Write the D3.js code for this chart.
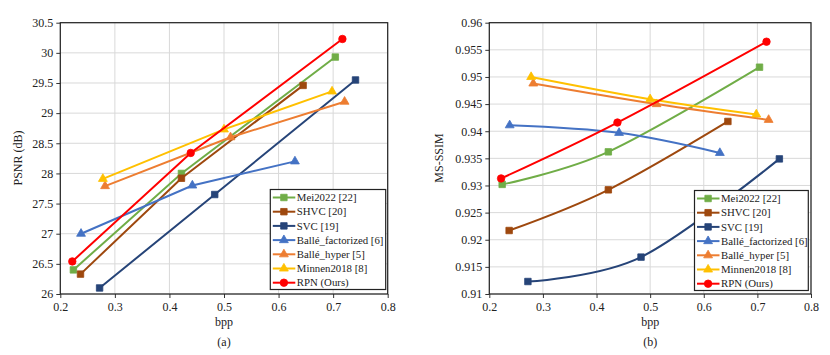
<!DOCTYPE html>
<html>
<head>
<meta charset="utf-8">
<script src="https://cdn.jsdelivr.net/npm/d3@7"></script>
<style>
  body { margin: 0; background: #fff; }
  svg text { font-family: "Liberation Serif", "Times New Roman", Times, serif; fill: #222; }
</style>
</head>
<body>
<svg id="chart" width="830" height="355"></svg>
<script>
// series names, colours and marker shapes
const seriesNames = ['Mei2022 [22]', 'SHVC [20]', 'SVC [19]', 'Ballé_factorized [6]', 'Ballé_hyper [5]', 'Minnen2018 [8]', 'RPN (Ours)'];
const seriesColors = ['#70ad47', '#9e480e', '#264478', '#4472c4', '#ed7d31', '#ffc000', '#ff0000'];
const seriesMarkers = ['square', 'square', 'square', 'triangle', 'triangle', 'triangle', 'circle'];

// bpp for each series (shared by both panels)
const bppMei = [0.224, 0.422, 0.704];
const bppShvc = [0.237, 0.422, 0.645];
const bppSvc = [0.272, 0.483, 0.741];
const bppFact = [0.238, 0.442, 0.630];
const bppHyper = [0.282, 0.512, 0.721];
const bppMinnen = [0.278, 0.500, 0.698];
const bppRpn = [0.222, 0.439, 0.717];

// (a) PSNR
const psnrMei = [26.40, 28.00, 29.93];
const psnrShvc = [26.33, 27.92, 29.46];
const psnrSvc = [26.10, 27.65, 29.55];
const psnrFact = [27.00, 27.80, 28.20];
const psnrHyper = [27.79, 28.60, 29.19];
const psnrMinnen = [27.91, 28.73, 29.36];
const psnrRpn = [26.54, 28.34, 30.23];

// (b) MS-SSIM
const msMei = [0.9302, 0.9362, 0.9518];
const msShvc = [0.9217, 0.9292, 0.9418];
const msSvc = [0.9123, 0.9168, 0.9349];
const msFact = [0.9411, 0.9397, 0.9360];
const msHyper = [0.9488, 0.9450, 0.9421];
const msMinnen = [0.9500, 0.9459, 0.9431];
const msRpn = [0.9313, 0.9416, 0.9565];

// axis ticks
const bppTicks = [0.2, 0.3, 0.4, 0.5, 0.6, 0.7, 0.8];
const psnrTicks = [26, 26.5, 27, 27.5, 28, 28.5, 29, 29.5, 30, 30.5];
const msTicks = [0.91, 0.915, 0.92, 0.925, 0.93, 0.935, 0.94, 0.945, 0.95, 0.955, 0.96];

const bppAll = [bppMei, bppShvc, bppSvc, bppFact, bppHyper, bppMinnen, bppRpn];

const FONT = '"Liberation Serif", "Times New Roman", Times, serif';
const svg = d3.select('#chart');

const markerPath = (shape) => {
    if (shape === 'square') return d3.symbol(d3.symbolSquare, 42)();
    if (shape === 'triangle') return d3.symbol(d3.symbolTriangle, 34)();
    return d3.symbol(d3.symbolCircle, 44)();
};

function drawPanel(opts) {
    const g = svg.append('g').attr('font-family', FONT);
    const x = d3.scaleLinear().domain([0.2, 0.8]).range(opts.xRange);
    const y = d3.scaleLinear().domain(opts.yDomain).range([294, 22.7]);

    // grid
    g.append('g').selectAll('line')
        .data(bppTicks)
        .join('line')
        .attr('x1', (d) => x(d)).attr('x2', (d) => x(d))
        .attr('y1', y.range()[0]).attr('y2', y.range()[1])
        .attr('stroke', '#d9d9d9').attr('stroke-width', 1);
    g.append('g').selectAll('line')
        .data(opts.yTicks)
        .join('line')
        .attr('x1', opts.xRange[0]).attr('x2', opts.xRange[1])
        .attr('y1', (d) => y(d)).attr('y2', (d) => y(d))
        .attr('stroke', '#d9d9d9').attr('stroke-width', 1);

    // axes
    const xAxis = d3.axisBottom(x).tickValues(bppTicks).tickSize(4).tickSizeOuter(0)
        .tickFormat(d3.format('.1f'));
    const xAxisG = g.append('g')
        .attr('transform', `translate(0,${y.range()[0]})`)
        .call(xAxis);
    const yAxis = d3.axisLeft(y).tickValues(opts.yTicks).tickSize(4).tickSizeOuter(0)
        .tickFormat(opts.yFormat);
    const yAxisG = g.append('g')
        .attr('transform', `translate(${opts.xRange[0]},0)`)
        .call(yAxis);
    [xAxisG, yAxisG].forEach((a) => {
        a.attr('font-family', FONT).attr('font-size', 12);
        a.select('.domain').remove();
        a.selectAll('.tick line').attr('stroke', '#333');
        a.selectAll('.tick text').attr('fill', '#222');
    });
    xAxisG.selectAll('.tick text').attr('y', 8.5);
    yAxisG.selectAll('.tick text').attr('x', -7);

    // frame
    g.append('rect')
        .attr('x', opts.xRange[0]).attr('y', y.range()[1])
        .attr('width', opts.xRange[1] - opts.xRange[0])
        .attr('height', y.range()[0] - y.range()[1])
        .attr('fill', 'none').attr('stroke', '#222').attr('stroke-width', 1.2);

    // titles
    const cx = (opts.xRange[0] + opts.xRange[1]) / 2;
    g.append('text').attr('x', cx).attr('y', 326)
        .attr('text-anchor', 'middle').attr('font-size', 12).text('bpp');
    g.append('text').attr('x', cx).attr('y', 345.5)
        .attr('text-anchor', 'middle').attr('font-size', 12).text(opts.caption);
    g.append('text')
        .attr('transform', `translate(${opts.yTitleX},158) rotate(-90)`)
        .attr('text-anchor', 'middle').attr('font-size', 12).text(opts.yTitle);

    // series
    const line = d3.line()
        .x((d) => x(d[0])).y((d) => y(d[1]))
        .curve(opts.smooth ? d3.curveCardinal.tension(0) : d3.curveLinear);
    seriesNames.forEach((name, i) => {
        const pts = bppAll[i].map((b, j) => [b, opts.values[i][j]]);
        const sg = g.append('g');
        sg.append('path').datum(pts)
            .attr('d', line)
            .attr('fill', 'none')
            .attr('stroke', seriesColors[i])
            .attr('stroke-width', 2);
        sg.selectAll('path.m').data(pts).join('path')
            .attr('class', 'm')
            .attr('d', markerPath(seriesMarkers[i]))
            .attr('transform', (d) => `translate(${x(d[0])},${y(d[1])})`)
            .attr('fill', seriesColors[i])
            .attr('stroke', seriesColors[i])
            .attr('stroke-width', 0.8);
    });

    // legend
    const lg = g.append('g').attr('transform', `translate(${opts.legend[0]},${opts.legend[1]})`);
    lg.append('rect').attr('width', opts.legend[2]).attr('height', 100)
        .attr('fill', '#fff').attr('stroke', '#222').attr('stroke-width', 1.2);
    seriesNames.forEach((name, i) => {
        const ry = 8 + i * 14.2;
        lg.append('line').attr('x1', 2.5).attr('x2', 25).attr('y1', ry).attr('y2', ry)
            .attr('stroke', seriesColors[i]).attr('stroke-width', 2);
        lg.append('path').attr('d', markerPath(seriesMarkers[i]))
            .attr('transform', `translate(13.6,${ry})`)
            .attr('fill', seriesColors[i]).attr('stroke', seriesColors[i]).attr('stroke-width', 0.8);
        lg.append('text').attr('x', 26.5).attr('y', ry).attr('dy', '0.35em')
            .attr('font-size', 10.8).text(name);
    });
}

drawPanel({
    xRange: [60.3, 387.7],
    yDomain: [26, 30.5],
    yTicks: psnrTicks,
    yFormat: d3.format('~g'),
    yTitle: 'PSNR (dB)',
    yTitleX: 22,
    caption: '(a)',
    smooth: false,
    values: [psnrMei, psnrShvc, psnrSvc, psnrFact, psnrHyper, psnrMinnen, psnrRpn],
    legend: [270.3, 189.5, 115.4],
});

drawPanel({
    xRange: [489.3, 811],
    yDomain: [0.91, 0.96],
    yTicks: msTicks,
    yFormat: d3.format('~g'),
    yTitle: 'MS-SSIM',
    yTitleX: 443,
    caption: '(b)',
    smooth: true,
    values: [msMei, msShvc, msSvc, msFact, msHyper, msMinnen, msRpn],
    legend: [694.5, 190.5, 113.8],
});
</script>
</body>
</html>
